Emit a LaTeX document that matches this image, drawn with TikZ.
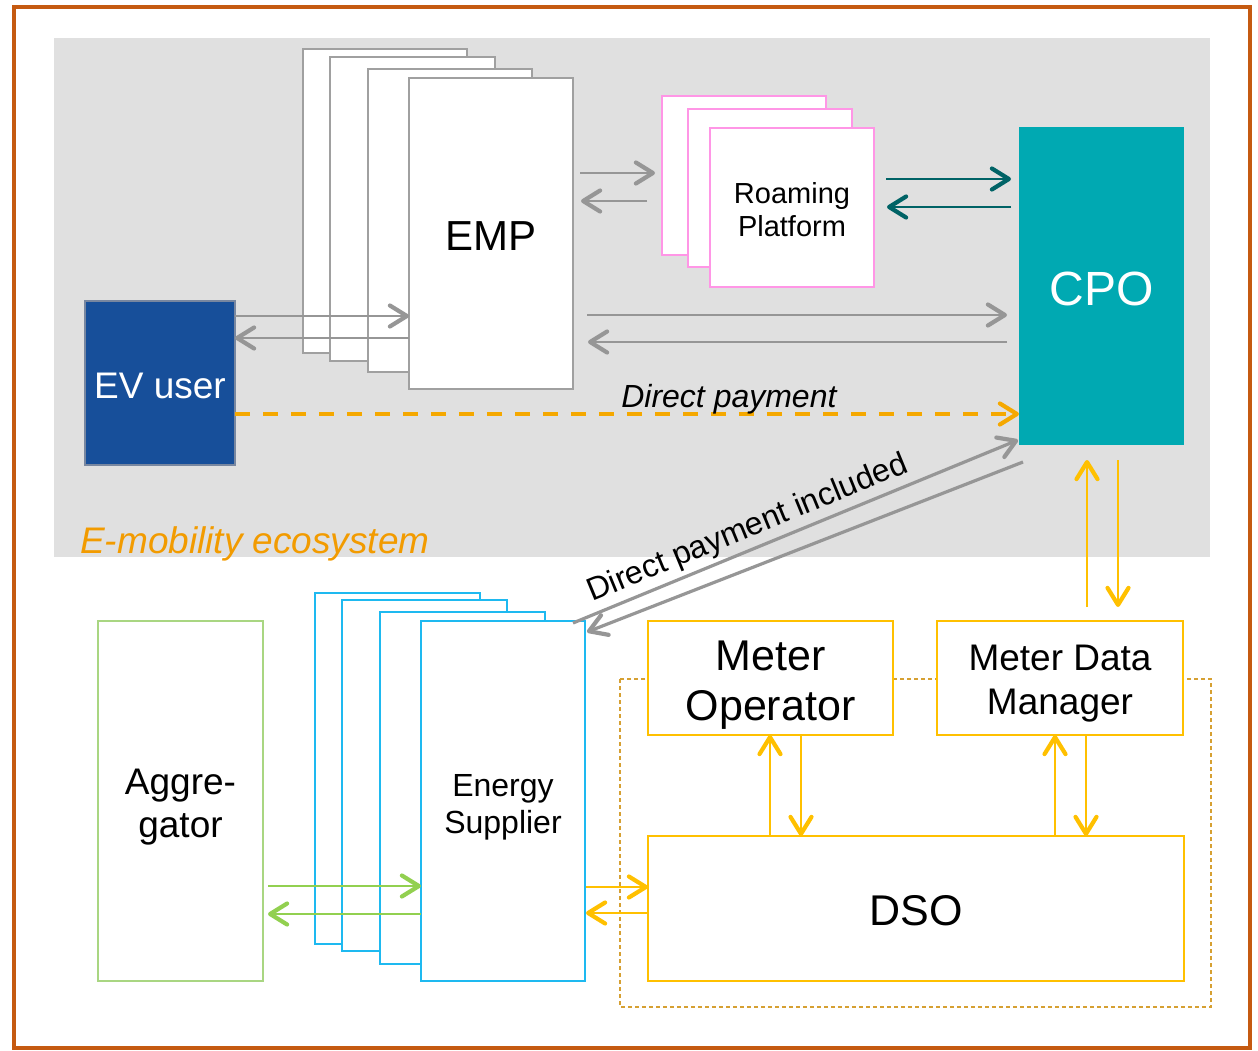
\documentclass[tikz,border=0pt]{standalone}
\usepackage{fontspec}
\setmainfont{Liberation Sans}
\usetikzlibrary{arrows.meta,calc}
\definecolor{frame}{RGB}{197,90,17}
\definecolor{ecobg}{RGB}{224,224,224}
\definecolor{ecotext}{RGB}{242,155,0}
\definecolor{cardgray}{RGB}{160,160,160}
\definecolor{arrgray}{RGB}{150,150,150}
\definecolor{rppink}{RGB}{255,150,230}
\definecolor{cpoteal}{RGB}{0,169,178}
\definecolor{darkteal}{RGB}{0,99,102}
\definecolor{evblue}{RGB}{23,79,154}
\definecolor{evborder}{RGB}{120,135,160}
\definecolor{payorange}{RGB}{245,168,0}
\definecolor{escyan}{RGB}{30,185,240}
\definecolor{agggreen}{RGB}{169,214,130}
\definecolor{arrgreen}{RGB}{146,208,80}
\definecolor{dsoyellow}{RGB}{255,192,0}
\definecolor{dsodash}{RGB}{214,160,50}
\newcommand{\fsz}[2]{\fontsize{#1}{#2}\selectfont}
\tikzset{
  sized/.style 2 args={minimum width=#1, minimum height=#2},
  card/.style={draw=cardgray, fill=white, line width=1.3pt, anchor=north west, inner sep=0pt, outer sep=0pt},
  rpcard/.style={card, draw=rppink},
  escard/.style={card, draw=escyan},
  aggbox/.style={card, draw=agggreen},
  dsobox/.style={card, draw=dsoyellow},
  boxtext/.style={align=center, inner sep=0pt},
  barb/.style={-{Straight Barb[length=17pt,width=21pt,line width=4.2pt,round]}},
  grayarr/.style={barb, draw=arrgray, line width=2.2pt},
  tealarr/.style={barb, draw=darkteal, line width=2.4pt},
  greenarr/.style={barb, draw=arrgreen, line width=2pt},
  yellowarr/.style={barb, draw=dsoyellow, line width=2pt},
}
\begin{document}
\begin{tikzpicture}[x=1pt,y=-1pt]
\useasboundingbox (0,0) rectangle (1258,1051);
% frame and ecosystem area
\draw[frame, line width=4pt] (14,7) rectangle (1250,1048);
\fill[ecobg] (54,38) rectangle (1210,557);
\node[font=\fsz{37}{40}\itshape, text=ecotext, anchor=base west, inner sep=0pt] (ecolabel) at (80,553) {E-mobility ecosystem};
% EMP stack
\node[card, sized={164pt}{304pt}] (emp1) at (303,49) {};
\node[card, sized={165pt}{304pt}] (emp2) at (330,57) {};
\node[card, sized={164pt}{303pt}] (emp3) at (368,69) {};
\node[card, sized={164pt}{311pt}, label={[boxtext, yshift=-3pt, font=\fsz{42}{44}]center:EMP}] (emp) at (409,78) {};
% roaming platform stack
\node[rpcard, sized={164pt}{159pt}] (rp1) at (662,96) {};
\node[rpcard, sized={164pt}{158pt}] (rp2) at (688,109) {};
\node[rpcard, sized={164pt}{159pt}, label={[boxtext, yshift=-2pt, font=\fsz{29}{33}]center:{Roaming\\Platform}}] (rp) at (710,128) {};
% CPO and EV user
\node[anchor=north west, fill=cpoteal, inner sep=0pt, outer sep=0pt, sized={165pt}{318pt},
  label={[boxtext, yshift=-3pt, text=white, font=\fsz{48}{50}]center:CPO}] (cpo) at (1019,127) {};
\node[card, draw=evborder, fill=evblue, sized={150pt}{164pt},
  label={[boxtext, yshift=-3pt, text=white, font=\fsz{37}{40}]center:EV user}] (ev) at (85,301) {};
% arrows in the ecosystem
\draw[grayarr] (ev.east |- 0,316) -- (emp.west |- 0,316);
\draw[grayarr] (emp.west |- 0,338) -- (ev.east |- 0,338);
\draw[grayarr] ($(emp.east |- 0,173)+(7,0)$) -- ($(rp1.west |- 0,173)+(-7,0)$);
\draw[grayarr] ($(rp1.west |- 0,201)+(-15,0)$) -- ($(emp.east |- 0,201)+(8,0)$);
\draw[tealarr] ($(rp.east |- 0,179)+(12,0)$) -- ($(cpo.west |- 0,179)+(-8,0)$);
\draw[tealarr] ($(cpo.west |- 0,207)+(-8,0)$) -- ($(rp.east |- 0,207)+(13,0)$);
\draw[grayarr] ($(emp.east |- 0,315)+(14,0)$) -- ($(cpo.west |- 0,315)+(-12,0)$);
\draw[grayarr] ($(cpo.west |- 0,342)+(-12,0)$) -- ($(emp.east |- 0,342)+(15,0)$);
\draw[barb, draw=payorange, line width=4pt, dash pattern=on 15pt off 13pt] (ev.east |- 0,414) -- (cpo.west |- 0,414)
  node[pos=0.63, anchor=south, inner sep=0pt, yshift=-2pt, font=\fsz{32}{36}\itshape, text=black] (paylabel) {Direct payment};
% energy supplier stack and aggregator
\node[escard, sized={165pt}{351pt}] (es1) at (315,593) {};
\node[escard, sized={165pt}{351pt}] (es2) at (342,600) {};
\node[escard, sized={165pt}{352pt}] (es3) at (380,612) {};
\node[escard, sized={164pt}{360pt}, label={[boxtext, yshift=-6pt, font=\fsz{32}{37}]center:{Energy\\Supplier}}] (es) at (421,621) {};
\node[aggbox, sized={165pt}{360pt}, label={[boxtext, yshift=-6pt, font=\fsz{37}{43}]center:{Aggre-\\gator}}] (agg) at (98,621) {};
\draw[grayarr, line width=3.2pt] ($(es.north east)+(-12,2)$) -- ($(cpo.south west)+(-1,-5)$)
  node[pos=0.41, sloped, anchor=south, inner sep=4pt, font=\fsz{32}{36}, text=black] (inclabel) {Direct payment included};
\draw[grayarr, line width=3.2pt] ($(cpo.south west)+(4,17)$) -- ($(es.north east)+(2,11)$);
\draw[greenarr] ($(agg.east |- 0,886)+(5,0)$) -- (es.west |- 0,886);
\draw[greenarr] (es.west |- 0,914) -- ($(agg.east |- 0,914)+(5,0)$);
% grid operators
\draw[dsodash, line width=1.2pt, dash pattern=on 4pt off 3pt] (620,679) rectangle (1211,1007);
\node[dsobox, sized={245pt}{114pt}, label={[boxtext, yshift=-7pt, font=\fsz{43}{50}]center:{Meter\\Operator}}] (mo) at (648,621) {};
\node[dsobox, sized={246pt}{114pt}, label={[boxtext, yshift=-6pt, font=\fsz{37}{44}]center:{Meter Data\\Manager}}] (mdm) at (937,621) {};
\node[dsobox, sized={536pt}{145pt}, label={[boxtext, yshift=-2pt, font=\fsz{43}{44}]center:DSO}] (dso) at (648,836) {};
\draw[yellowarr] (dso.north -| 770,0) -- (mo.south -| 770,0);
\draw[yellowarr] (mo.south -| 801,0) -- (dso.north -| 801,0);
\draw[yellowarr] (dso.north -| 1055,0) -- (mdm.south -| 1055,0);
\draw[yellowarr] (mdm.south -| 1086,0) -- (dso.north -| 1086,0);
\draw[yellowarr] ($(mdm.north -| 1087,0)+(0,-14)$) -- ($(cpo.south -| 1087,0)+(0,15)$);
\draw[yellowarr] ($(cpo.south -| 1118,0)+(0,15)$) -- ($(mdm.north -| 1118,0)+(0,-14)$);
\draw[yellowarr] ($(es.east |- 0,887)+(1,0)$) -- (dso.west |- 0,887);
\draw[yellowarr] (dso.west |- 0,913) -- ($(es.east |- 0,913)+(1,0)$);
\end{tikzpicture}
\end{document}
